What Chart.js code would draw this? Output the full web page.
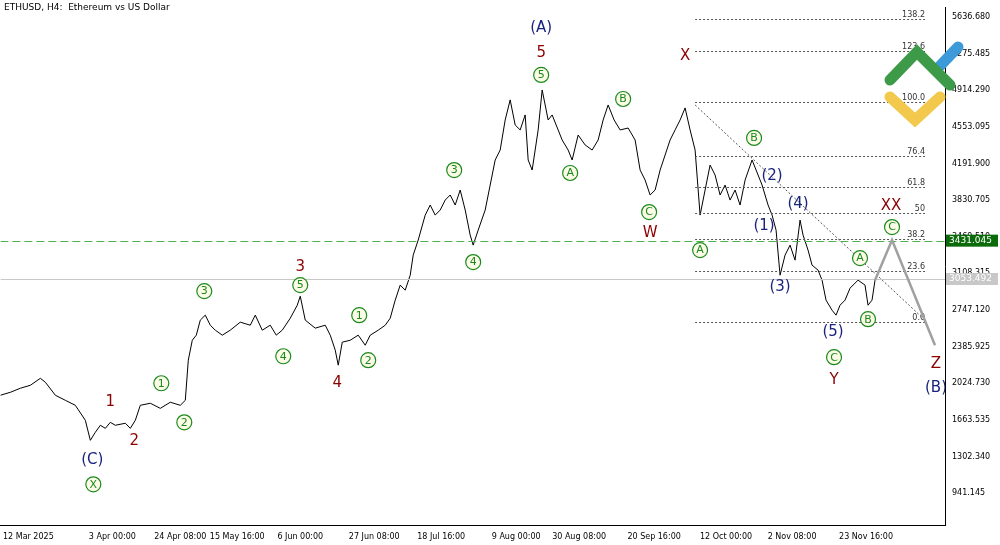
<!DOCTYPE html>
<html><head><meta charset="utf-8">
<script src="https://cdn.jsdelivr.net/npm/chart.js@4"></script>
<style>html,body{margin:0;background:#fff}#wrap{width:1000px;height:545px}</style>
</head><body><div id="wrap"><canvas id="c"></canvas></div>
<script>
const xPos = [0,10,20,30,40,45,55,65,75,85,90,95,100,105,110,115,125,130,135,140,150,160,170,180,185,188,192,196,200,205,210,215,222,230,240,250,255,262,270,276,282,290,297,300,305,315,325,330,335,338,342,350,358,365,370,378,385,390,395,400,405,410,413,418,425,430,435,440,445,450,455,460,465,470,473,478,485,490,495,500,505,510,515,520,525,528,532,538,542,548,552,558,562,568,572,578,585,592,598,603,608,614,620,628,635,640,645,650,655,660,665,670,675,680,685,690,695,700,705,710,715,720,725,730,735,740,745,752,758,762,768,772,776,780,785,790,795,800,803,808,812,818,822,826,832,836,840,845,850,858,865,868,872,875];
const prices = [1908,1937,1977,2006,2075,2036,1908,1858,1809,1661,1464,1543,1612,1582,1641,1612,1632,1582,1661,1809,1829,1779,1839,1809,1858,2253,2450,2500,2648,2697,2598,2549,2500,2549,2628,2598,2697,2549,2598,2500,2549,2667,2795,2884,2648,2569,2598,2500,2352,2204,2431,2450,2500,2401,2500,2549,2598,2667,2845,2993,2943,3091,3289,3437,3683,3782,3683,3733,3831,3881,3782,3930,3733,3486,3387,3535,3733,3979,4226,4324,4620,4818,4571,4522,4670,4226,4127,4522,4916,4620,4670,4522,4423,4324,4226,4472,4374,4324,4423,4620,4768,4620,4522,4541,4423,4127,4028,3881,3930,4127,4275,4423,4522,4620,4739,4522,4324,3683,3930,4176,4078,3881,3979,3831,3930,3782,4028,4226,4078,3979,3782,3683,3535,3091,3289,3387,3239,3634,3486,3338,3190,3141,3042,2845,2746,2697,2795,2845,2963,3042,2993,2795,2845,3042];
const yTicks = [941.145,1302.340,1663.535,2024.730,2385.925,2747.120,3108.315,3469.510,3830.705,4191.900,4553.095,4914.290,5275.485,5636.680];
const xTickPos = [28,112,180,237,300,374,441,516,579,654,726,792,866];
const xTickLabels = ["12 Mar 2025","3 Apr 00:00","24 Apr 08:00","15 May 16:00","6 Jun 00:00","27 Jun 08:00","18 Jul 16:00","9 Aug 00:00","30 Aug 08:00","20 Sep 16:00","12 Oct 00:00","2 Nov 08:00","23 Nov 16:00"];
const fibLevels = ["138.2","123.6","100.0","76.4","61.8","50","38.2","23.6","0.0"];
const fibPrices = [5617,5301,4798,4265,3959,3703,3447,3131,2628];
const projX = [875,892,935];
const projP = [3042,3437,2401];
const diagX = [695,925];
const diagP = [4768,2648];
const supportPrice = 3431.045;
const lastPrice = 3053.492;
// [text, x, price, colour, circled]
const RED = "#8b0000", NAVY = "#1a237e", GRN = "#1b8a1b";
const marks = [
  ["(A)",541,5528,NAVY,0],["5",541,5281,RED,0],["5",541,5064,GRN,1],
  ["X",685,5252,RED,0],["B",623,4827,GRN,1],["B",754,4443,GRN,1],
  ["3",454,4127,GRN,1],["A",570,4098,GRN,1],["C",649,3713,GRN,1],["W",650,3506,RED,0],["A",700,3338,GRN,1],
  ["XX",891,3772,RED,0],["C",892,3565,GRN,1],
  ["(2)",772,4068,NAVY,0],["(4)",798,3792,NAVY,0],["(1)",764,3575,NAVY,0],["(3)",780,2973,NAVY,0],["(5)",833,2529,NAVY,0],
  ["A",860,3259,GRN,1],["B",868,2657,GRN,1],["C",834,2283,GRN,1],["Y",834,2056,RED,0],["Z",936,2214,RED,0],["(B)",936,1977,NAVY,0],
  ["3",300,3170,RED,0],["5",300,2993,GRN,1],["3",204,2934,GRN,1],["1",359,2697,GRN,1],["4",283,2292,GRN,1],["2",368,2253,GRN,1],["4",337,2026,RED,0],["4",473,3220,GRN,1],
  ["1",110,1839,RED,0],["1",161,2026,GRN,1],["2",184,1641,GRN,1],["2",134,1454,RED,0],["(C)",92,1267,NAVY,0],["X",93,1030,GRN,1]
];

const overlay = {
  id: "overlay",
  afterDatasetsDraw(chart) {
    const {ctx, scales: {x, y}, chartArea: a} = chart;
    ctx.save();
    ctx.beginPath(); ctx.rect(a.left, a.top, a.right - a.left, a.bottom - a.top); ctx.clip();
    // fib levels
    ctx.setLineDash([2, 2]); ctx.strokeStyle = "#555"; ctx.lineWidth = 1;
    ctx.font = "8px 'DejaVu Sans'"; ctx.fillStyle = "#333"; ctx.textAlign = "right"; ctx.textBaseline = "bottom";
    fibPrices.forEach((p, i) => {
      const py = Math.round(y.getPixelForValue(p)) + 0.5;
      ctx.beginPath(); ctx.moveTo(x.getPixelForValue(695), py); ctx.lineTo(x.getPixelForValue(925), py); ctx.stroke();
      ctx.fillText(fibLevels[i], x.getPixelForValue(925), py - 1);
    });
    ctx.beginPath(); ctx.moveTo(x.getPixelForValue(diagX[0]), y.getPixelForValue(diagP[0]));
    ctx.lineTo(x.getPixelForValue(diagX[1]), y.getPixelForValue(diagP[1])); ctx.stroke();
    // support + last price
    ctx.setLineDash([8, 4]); ctx.strokeStyle = "#4fb04f";
    let py = Math.round(y.getPixelForValue(supportPrice)) + 0.5;
    ctx.beginPath(); ctx.moveTo(a.left, py); ctx.lineTo(a.right, py); ctx.stroke();
    ctx.setLineDash([]); ctx.strokeStyle = "#c8c8c8";
    py = Math.round(y.getPixelForValue(lastPrice)) + 0.5;
    ctx.beginPath(); ctx.moveTo(a.left, py); ctx.lineTo(a.right, py); ctx.stroke();
    // projection
    ctx.strokeStyle = "#a0a0a0"; ctx.lineWidth = 2.5;
    ctx.beginPath();
    projX.forEach((v, i) => { const px = x.getPixelForValue(v), pp = y.getPixelForValue(projP[i]); i ? ctx.lineTo(px, pp) : ctx.moveTo(px, pp); });
    ctx.stroke();
    // wave labels
    ctx.textAlign = "center"; ctx.textBaseline = "middle";
    marks.forEach(([t, mx, mp, col, circ]) => {
      const px = x.getPixelForValue(mx), pp = y.getPixelForValue(mp);
      if (circ) {
        ctx.beginPath(); ctx.arc(px, pp, 7.5, 0, Math.PI * 2);
        ctx.fillStyle = "#fbfbe8"; ctx.fill(); ctx.lineWidth = 1.2; ctx.strokeStyle = GRN; ctx.stroke();
        ctx.font = "11px 'DejaVu Sans'"; ctx.fillStyle = GRN; ctx.fillText(t, px, pp + 0.5);
      } else {
        ctx.font = "15px 'DejaVu Sans'"; ctx.fillStyle = col; ctx.fillText(t, px, pp);
      }
    });
    ctx.restore();
    // logo
    ctx.save();
    ctx.lineCap = "round"; ctx.lineWidth = 11;
    ctx.strokeStyle = "#3d9ad9"; ctx.beginPath(); ctx.moveTo(938, 68); ctx.lineTo(958, 47); ctx.stroke();
    ctx.strokeStyle = "#f2c94c"; ctx.beginPath(); ctx.moveTo(890, 97); ctx.lineTo(915, 120); ctx.lineTo(940, 97); ctx.stroke();
    ctx.strokeStyle = "#3c9a48"; ctx.beginPath(); ctx.moveTo(890, 80); ctx.lineTo(917, 52); ctx.lineTo(950, 85); ctx.stroke();
    ctx.restore();
    // price boxes on axis
    ctx.save(); ctx.font = "9px 'DejaVu Sans'"; ctx.textBaseline = "middle"; ctx.textAlign = "left";
    [[supportPrice, "#0b6b0b", "#fff"], [lastPrice, "#c8c8c8", "#fff"]].forEach(([p, bg, fg]) => {
      const pp = y.getPixelForValue(p);
      ctx.fillStyle = bg; ctx.fillRect(a.right + 1, pp - 6, 52, 12);
      ctx.fillStyle = fg; ctx.fillText(p.toFixed(3), a.right + 4, pp);
    });
    ctx.fillStyle = "#000"; ctx.textBaseline = "top";
    ctx.fillText("ETHUSD, H4:  Ethereum vs US Dollar", 4, 3);
    ctx.restore();
  }
};

new Chart(document.getElementById("c"), {
  type: "line",
  data: { datasets: [{ data: xPos.map((v, i) => ({x: v, y: prices[i]})), borderColor: "#000", borderWidth: 1, pointRadius: 0, tension: 0 }] },
  options: {
    responsive: true, maintainAspectRatio: false, animation: false,
    plugins: { legend: { display: false }, tooltip: { enabled: false } },
    scales: {
      x: {
        type: "linear", min: 0, max: 945,
        afterBuildTicks: s => { s.ticks = xTickPos.map(v => ({value: v})); },
        ticks: { autoSkip: false, maxRotation: 0, font: { size: 8, family: "DejaVu Sans" }, color: "#000",
          callback: (v) => xTickLabels[xTickPos.indexOf(v)] },
        grid: { display: false, drawTicks: true, tickLength: 4 },
        border: { color: "#000" }
      },
      y: {
        position: "right", min: 625.5, max: 5725.5,
        afterBuildTicks: s => { s.ticks = yTicks.map(v => ({value: v})); },
        afterFit: s => { s.width = 55; },
        ticks: { font: { size: 8, family: "DejaVu Sans" }, color: "#000", callback: v => v.toFixed(3) },
        grid: { display: false, tickLength: 4 },
        border: { color: "#000" }
      }
    }
  },
  plugins: [overlay]
});
</script></body></html>
